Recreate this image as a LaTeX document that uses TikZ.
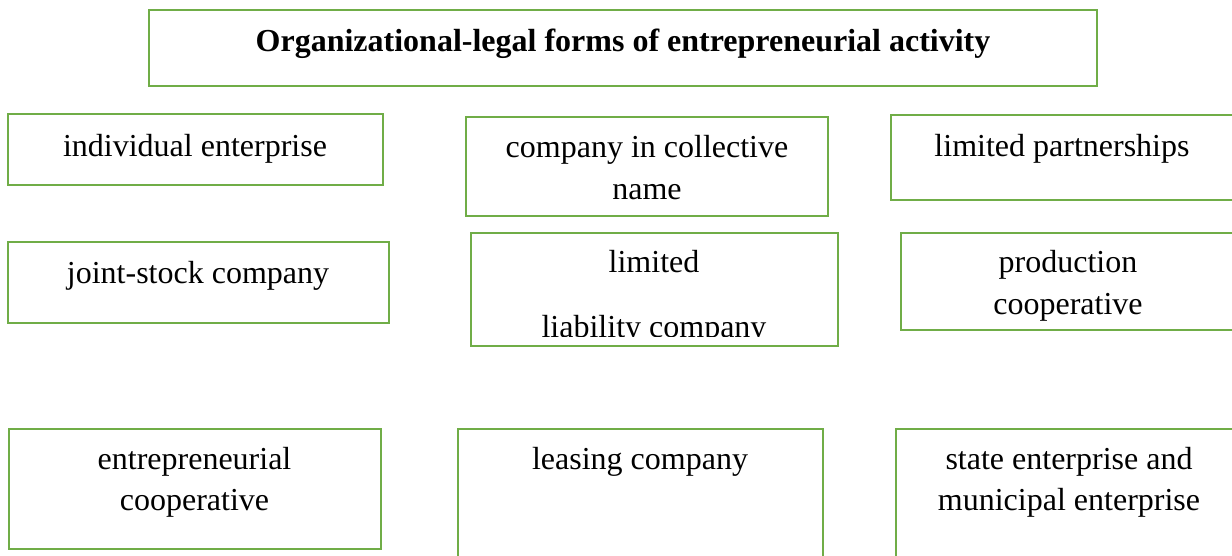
\documentclass[tikz,border=0pt]{standalone}
\usepackage{fontspec}
\setmainfont{Liberation Serif}
\definecolor{boxgreen}{HTML}{70AD47}
\tikzset{
  box/.style={draw=boxgreen, line width=2.5pt, rectangle, inner sep=0pt},
  txt/.style={inner sep=0pt, anchor=base, font=\fontsize{32}{38}\selectfont},
  ttl/.style={inner sep=0pt, anchor=base, font=\bfseries\fontsize{32}{38}\selectfont}
}
\begin{document}
\begin{tikzpicture}[x=1pt, y=-1pt]
\useasboundingbox (0,0) rectangle (1232,555);
\fill[white] (0,0) rectangle (1232,555);
% boxes
\node[box, minimum width=948pt, minimum height=76pt] (title) at (623,48) {};
\node[box, minimum width=375pt, minimum height=71pt] (ind) at (195.5,149.5) {};
\node[box, minimum width=362pt, minimum height=99pt] (ccn) at (647,166.5) {};
\node[box, minimum width=349pt, minimum height=85pt] (lp) at (1065.5,157.5) {};
\node[box, minimum width=381pt, minimum height=81pt] (jsc) at (198.5,282.5) {};
\node[box, minimum width=367pt, minimum height=113pt] (llc) at (654.5,289.5) {};
\node[box, minimum width=339pt, minimum height=97pt] (pc) at (1070.5,281.5) {};
\node[box, minimum width=372pt, minimum height=120pt] (ec) at (195,489) {};
\node[box, minimum width=365pt, minimum height=131pt] (lc) at (640.5,494.5) {};
\node[box, minimum width=344pt, minimum height=131pt] (se) at (1068,494.5) {};
% texts
\node[ttl] (t-title) at (623,51) {Organizational-legal forms of entrepreneurial activity};
\node[txt] (t-ind) at (195,156) {individual enterprise};
\node[txt] (t-ccn1) at (647,157) {company in collective};
\node[txt] (t-ccn2) at (647,199) {name};
\node[txt] (t-lp) at (1062,156) {limited partnerships};
\node[txt] (t-jsc) at (198,283) {joint-stock company};
\node[txt] (t-llc1) at (654,272) {limited};
\begin{scope}
\clip (471,233) rectangle (838,336);
\node[txt] (t-llc2) at (654,337) {liability company};
\end{scope}
\node[txt] (t-pc1) at (1068,272) {production};
\node[txt] (t-pc2) at (1068,314) {cooperative};
\node[txt] (t-ec1) at (194.5,469) {entrepreneurial};
\node[txt] (t-ec2) at (194.5,510) {cooperative};
\node[txt] (t-lc) at (640,469) {leasing company};
\node[txt] (t-se1) at (1069,469) {state enterprise and};
\node[txt] (t-se2) at (1069,510) {municipal enterprise};
\end{tikzpicture}
\end{document}
